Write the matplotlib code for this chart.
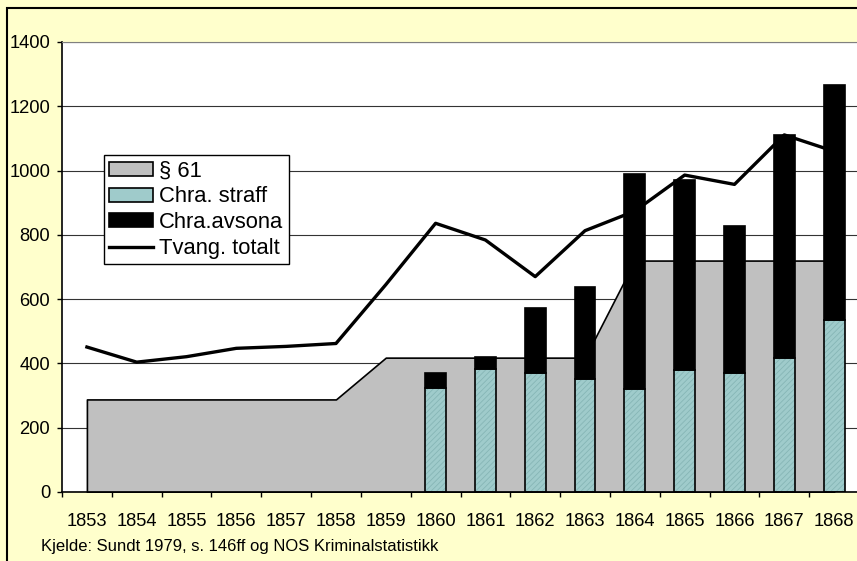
import numpy as np
import matplotlib
matplotlib.use("Agg")
import matplotlib.pyplot as plt
from matplotlib.patches import Rectangle, Patch
from matplotlib.lines import Line2D

plt.rcParams['font.family'] = ['Liberation Sans', 'DejaVu Sans']

years = ['1853', '1854', '1855', '1856', '1857', '1858', '1859', '1860',
         '1861', '1862', '1863', '1864', '1865', '1866', '1867', '1868']

# § 61 (area)
par61 = [288, 288, 288, 288, 288, 288, 418, 418, 418, 418, 418, 720, 720, 720, 720, 720]
# Chra. straff / Chra.avsona (stacked bars, 1860-1868)
bar_years = ['1860', '1861', '1862', '1863', '1864', '1865', '1866', '1867', '1868']
straff = [325, 383, 371, 352, 321, 380, 369, 416, 535]
avsona = [44, 38, 202, 287, 667, 591, 459, 695, 731]
# Tvang. totalt (line)
tvang = [451, 404, 421, 447, 453, 462, 645, 836, 784, 670, 813, 874, 986, 957, 1111, 1060]

bg = '#FFFFCC'
teal = '#9FCBCB'
grey = '#C0C0C0'

fig = plt.figure(figsize=(8.57, 5.61), dpi=100, facecolor=bg)
ax = fig.add_axes([62/857, 1 - 492/561, 797/857, 450/561])
ax.set_facecolor('white')

x = np.arange(len(years))
bx = np.array([years.index(y) for y in bar_years])

ax.fill_between(x, 0, par61, facecolor=grey, edgecolor='black', linewidth=1.2, zorder=1)

w = 0.42
plt.rcParams['hatch.linewidth'] = 0.6
ax.bar(bx, straff, width=w, color=teal, edgecolor='#86B6B6', hatch='//////', linewidth=0, zorder=2)
ax.bar(bx, straff, width=w, facecolor='none', edgecolor='black', linewidth=1.2, zorder=2.1)
ax.bar(bx, avsona, bottom=straff, width=w, color='black', edgecolor='black', linewidth=1.2, zorder=2.2)

ax.plot(x, tvang, color='black', linewidth=2.4, solid_joinstyle='round', zorder=3)

ax.set_xlim(-0.5, len(years) - 0.5)
ax.set_ylim(0, 1400)
ax.set_yticks(np.arange(0, 1401, 200))
ax.set_xticks(x)
ax.set_xticklabels(years)
ax.set_xticks(np.arange(-0.5, len(years)), minor=True)
ax.tick_params(axis='x', which='major', length=0, pad=15, labelsize=13.2)
ax.tick_params(axis='x', which='minor', length=3.6, width=1, direction='out')
ax.tick_params(axis='y', length=3.6, width=1, pad=5, labelsize=13.2, direction='out')

ax.set_axisbelow(True)
ax.yaxis.grid(True, color='#333333', linewidth=0.8, zorder=0)
ax.spines['top'].set_color('#808080')
ax.spines['right'].set_visible(False)
ax.spines['left'].set_linewidth(1.2)
ax.spines['bottom'].set_linewidth(1.2)

handles = [Patch(facecolor=grey, edgecolor='black', linewidth=1.2),
           Patch(facecolor=teal, edgecolor='black', linewidth=1.2),
           Patch(facecolor='black', edgecolor='black', linewidth=1.2),
           Line2D([0], [0], color='black', linewidth=2.4)]
labels = ['§ 61', 'Chra. straff', 'Chra.avsona', 'Tvang. totalt']
leg = ax.legend(handles, labels, loc='upper left', bbox_to_anchor=(104/857, 1 - 155/561),
                bbox_transform=fig.transFigure, fontsize=15.8, frameon=True, fancybox=False,
                framealpha=1, edgecolor='black', borderpad=0.25, labelspacing=0.22,
                handlelength=2.0, handleheight=0.6, handletextpad=0.25, borderaxespad=0)
leg.get_frame().set_linewidth(1.0)
leg.set_zorder(5)

fig.text(41/857, 1 - 546/561, 'Kjelde: Sundt 1979, s. 146ff og NOS Kriminalstatistikk',
         fontsize=12, ha='left', va='center')

fig.patches.append(Rectangle((7/857, -0.1), 2, 1 - 8/561 + 0.1, transform=fig.transFigure,
                             fill=False, edgecolor='black', linewidth=1.5))

fig.savefig('out.png', dpi=100, facecolor=bg)
